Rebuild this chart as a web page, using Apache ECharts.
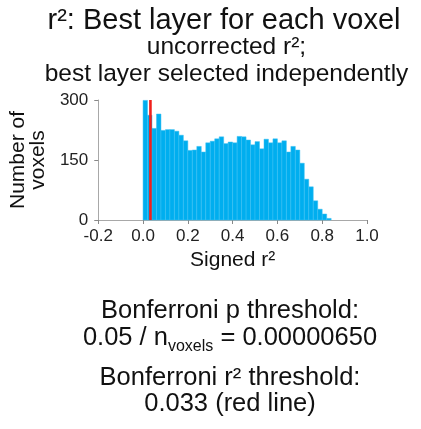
<!DOCTYPE html>
<html>
<head>
<meta charset="utf-8">
<script src="https://cdn.jsdelivr.net/npm/echarts@6/dist/echarts.min.js"></script>
<style>
html,body{margin:0;padding:0;background:#fff;}
#chart{width:421px;height:429px;}
</style>
</head>
<body>
<div id="chart"></div>
<script>
// ---- data ----
var binLeft = [0.00,0.02,0.04,0.06,0.08,0.10,0.12,0.14,0.16,0.18,0.20,0.22,0.24,0.26,0.28,0.30,0.32,0.34,0.36,0.38,0.40,0.42,0.44,0.46,0.48,0.50,0.52,0.54,0.56,0.58,0.60,0.62,0.64,0.66,0.68,0.70,0.72,0.74,0.76,0.78,0.80,0.82];
var binRight = [0.02,0.04,0.06,0.08,0.10,0.12,0.14,0.16,0.18,0.20,0.22,0.24,0.26,0.28,0.30,0.32,0.34,0.36,0.38,0.40,0.42,0.44,0.46,0.48,0.50,0.52,0.54,0.56,0.58,0.60,0.62,0.64,0.66,0.68,0.70,0.72,0.74,0.76,0.78,0.80,0.82,0.84];
var counts = [299,262,229,265,224,226,226,222,212,198,174,175,184,170,193,197,203,208,191,195,193,209,208,200,188,196,178,202,193,203,193,198,170,184,175,142,102,83,48,27,15,4];
var threshold = 0.033;
var xTicks = [-0.2, 0.0, 0.2, 0.4, 0.6, 0.8, 1.0];
var yTicks = [0, 150, 300];
var titleText = 'r\u00b2: Best layer for each voxel';
var subtitleLines = ['uncorrected r\u00b2;', 'best layer selected independently'];
var xName = 'Signed r\u00b2';
var yName = 'Number of\nvoxels';
var noteLines = ['Bonferroni p threshold:', 'Bonferroni r\u00b2 threshold:', '0.033 (red line)'];
var formulaParts = ['0.05 / n', 'voxels', ' = 0.00000650'];

// ---- chart ----
var FONT = '"Liberation Sans", Arial, Helvetica, sans-serif';
var histData = binLeft.map(function (l, i) { return [l, binRight[i], counts[i]]; });
var chart = echarts.init(document.getElementById('chart'), null, {renderer: 'canvas'});

var mctx = document.createElement('canvas').getContext('2d');
function measure(text, size) { mctx.font = size + 'px ' + FONT; return mctx.measureText(text).width; }

function txt(x, y, text, size, align, va) {
  align = align || 'center'; va = va || 'middle';
  var st = {text: text, fontSize: size, fontFamily: FONT, fill: '#111',
            align: align, verticalAlign: va, textAlign: align, textVerticalAlign: va};
  return {type: 'text', x: x, y: y, style: st, silent: true};
}

// formula line with subscript, centered at cx
var MAIN = 25.5, SUB = 16, cx = 230, fy = 338;
var w0 = measure(formulaParts[0], MAIN), w1 = measure(formulaParts[1], SUB), w2 = measure(formulaParts[2], MAIN);
var fx = cx - (w0 + w1 + w2) / 2;

var option = {
  animation: false,
  backgroundColor: '#fff',
  grid: {left: 93, right: 54, top: 100, bottom: 209, containLabel: false},
  xAxis: {
    type: 'value', min: xTicks[0], max: xTicks[xTicks.length - 1], interval: 0.2,
    name: xName, nameLocation: 'middle', nameGap: 30,
    nameTextStyle: {fontSize: 21, fontFamily: FONT, color: '#111'},
    axisLine: {show: true, onZero: false, lineStyle: {color: '#a8a8a8', width: 1}},
    axisTick: {show: true, length: 4, lineStyle: {color: '#888'}},
    axisLabel: {fontSize: 17, fontFamily: FONT, color: '#222', margin: 8,
      formatter: function (v) { return v.toFixed(1); }},
    splitLine: {show: false}
  },
  yAxis: {
    type: 'value', min: yTicks[0], max: yTicks[yTicks.length - 1], interval: 150,
    name: yName, nameLocation: 'middle', nameGap: 30, nameRotate: 90,
    nameTextStyle: {fontSize: 21, fontFamily: FONT, color: '#111', lineHeight: 20},
    axisLine: {show: true, onZero: false, lineStyle: {color: '#a8a8a8', width: 1}},
    axisTick: {show: true, length: 4, lineStyle: {color: '#888'}},
    axisLabel: {fontSize: 17, fontFamily: FONT, color: '#222', margin: 10},
    splitLine: {show: false}
  },
  series: [
    {
      type: 'custom',
      data: histData,
      encode: {x: [0, 1], y: 2},
      renderItem: function (params, api) {
        var p0 = api.coord([api.value(0), api.value(2)]);
        var p1 = api.coord([api.value(1), 0]);
        return {type: 'rect',
          shape: {x: p0[0], y: p0[1], width: p1[0] - p0[0], height: p1[1] - p0[1]},
          style: {fill: '#00aeef', stroke: '#3cc0f2', lineWidth: 0.5}};
      },
      z: 2
    },
    {
      type: 'line',
      data: [[threshold, yTicks[0]], [threshold, yTicks[yTicks.length - 1]]],
      symbol: 'none',
      lineStyle: {color: '#f0201c', width: 2.6},
      z: 5
    }
  ],
  graphic: [
    txt(224, 21, titleText, 29),
    txt(226.5, 47, subtitleLines[0], 24.5),
    txt(226.5, 74, subtitleLines[1], 24.5),
    txt(cx, 311, noteLines[0], MAIN),
    txt(fx, fy, formulaParts[0], MAIN, 'left', 'middle'),
    txt(fx + w0, fy + 9, formulaParts[1], SUB, 'left', 'middle'),
    txt(fx + w0 + w1, fy, formulaParts[2], MAIN, 'left', 'middle'),
    txt(cx, 378, noteLines[1], MAIN),
    txt(cx, 404, noteLines[2], MAIN)
  ]
};
chart.setOption(option);
</script>
</body>
</html>
